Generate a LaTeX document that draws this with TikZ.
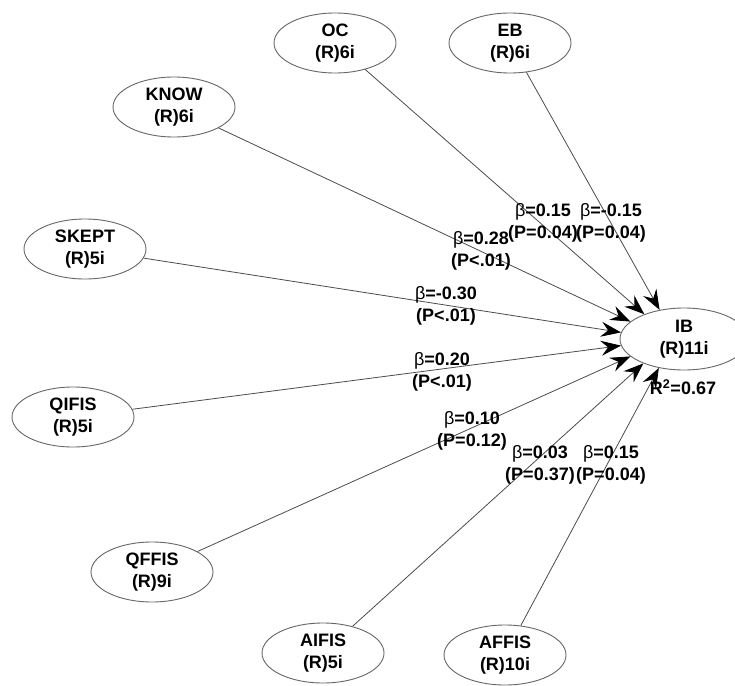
\documentclass[tikz,border=0pt]{standalone}
\usepackage{fontspec}
\setmainfont{Liberation Sans}
\usetikzlibrary{arrows.meta,shapes.geometric}
\newcommand\bsym{\textmd{β}}
\begin{document}
\begin{tikzpicture}[x=1pt,y=-1pt,
  lv/.style={ellipse,draw=black!60,line width=0.9pt,minimum width=122pt,minimum height=60pt,inner sep=0pt,align=center,font=\fontsize{18}{22}\selectfont\bfseries},
  pathline/.style={draw=black!70,line width=0.8pt,-{Stealth[length=20pt,width=15pt,inset=7pt,color=black]}},
  lab/.style={align=center,inner sep=0pt,font=\fontsize{18}{22}\selectfont\bfseries}]
\useasboundingbox (0,0) rectangle (735,685);
\fill[white] (0,0) rectangle (735,685);
\clip (0,0) rectangle (735,685);
% latent variables
\node[lv] (OC) at (335,43) {OC\\(R)6i};
\node[lv] (EB) at (510,43) {EB\\(R)6i};
\node[lv] (KNOW) at (174,107) {KNOW\\(R)6i};
\node[lv] (SKEPT) at (85,249) {SKEPT\\(R)5i};
\node[lv] (QIFIS) at (73,417) {QIFIS\\(R)5i};
\node[lv] (QFFIS) at (152,572) {QFFIS\\(R)9i};
\node[lv] (AIFIS) at (323,653) {AIFIS\\(R)5i};
\node[lv] (AFFIS) at (505,655) {AFFIS\\(R)10i};
\node[lv,minimum width=128pt,minimum height=62pt] (IB) at (684,339) {IB\\(R)11i};
% paths
\draw[pathline] (OC) -- (IB.148);
\draw[pathline] (EB) -- (IB.130);
\draw[pathline] (KNOW) -- (IB.162);
\draw[pathline] (SKEPT) -- (IB.174);
\draw[pathline] (QIFIS) -- (IB.186);
\draw[pathline] (QFFIS) -- (IB.198);
\draw[pathline] (AIFIS) -- (IB.211);
\draw[pathline] (AFFIS) -- (IB.229);
% labels
\node[lab] (lKNOW) at (481,251) {\bsym=0.28\\(P<.01)};
\node[lab] (lOC) at (543,223) {\bsym=0.15\\(P=0.04)};
\node[lab] (lEB) at (611,223) {\bsym=-0.15\\(P=0.04)};
\node[lab] (lSKEPT) at (446,306) {\bsym=-0.30\\(P<.01)};
\node[lab] (lQIFIS) at (442,372) {\bsym=0.20\\(P<.01)};
\node[lab] (lQFFIS) at (472,431) {\bsym=0.10\\(P=0.12)};
\node[lab] (lAIFIS) at (540,465) {\bsym=0.03\\(P=0.37)};
\node[lab] (lAFFIS) at (611,465) {\bsym=0.15\\(P=0.04)};
\node[lab] (r2) at (683,387) {R\textsuperscript{2}=0.67};
\end{tikzpicture}
\end{document}
